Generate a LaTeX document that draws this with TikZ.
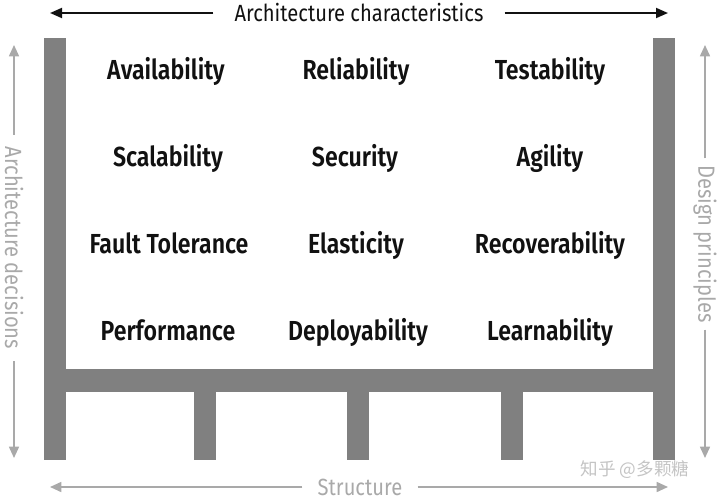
\documentclass[tikz,border=0pt]{standalone}
\usepackage{fontspec}
\setmainfont{Fira Sans}[FakeStretch=0.86]
\newfontfamily\qualfont{Fira Sans}[FakeStretch=0.84,UprightFont=* SemiBold]
\newfontfamily\wmfont{Noto Sans CJK SC}
\usetikzlibrary{arrows.meta,positioning}
\definecolor{chink}{HTML}{111111}
\definecolor{chbeam}{HTML}{808080}
\definecolor{chmute}{HTML}{A9A9A9}
\definecolor{chmark}{HTML}{C4C4C4}
\tikzset{
  quality/.style={anchor=base,font=\qualfont\fontsize{23.5}{28}\selectfont,text=chink},
  axislabel/.style={font=\fontsize{20}{24}\selectfont,inner ysep=0pt},
  beam/.style={fill=chbeam},
  darr/.style={-{Triangle[length=3.6mm,width=3mm]},line width=1.6pt,draw=chink},
  garr/.style={-{Triangle[length=3.4mm,width=3mm]},line width=1.4pt,draw=chmute},
}

\begin{document}
\begin{tikzpicture}[x=0.03cm,y=-0.03cm]
  \useasboundingbox (0,0) rectangle (720,501);
  \fill[beam] (44,38) rectangle (66,460);
  \fill[beam] (653,38) rectangle (675,460);
  \fill[beam] (44,369) rectangle (675,392);
  \fill[beam] (194,392) rectangle (216,460);
  \fill[beam] (347,392) rectangle (369,460);
  \fill[beam] (501,392) rectangle (523,460);

  \node[quality] (avail) at (166,79) {Availability};
  \node[quality] (reliab) at (356,79) {Reliability};
  \node[quality] (testab) at (550,79) {Testability};
  \node[quality] (scalab) at (168,166) {Scalability};
  \node[quality] (secur) at (355,166) {Security};
  \node[quality] (agil) at (550,166) {Agility};
  \node[quality] (faulttol) at (169,253) {Fault Tolerance};
  \node[quality] (elast) at (356,253) {Elasticity};
  \node[quality] (recov) at (550,253) {Recoverability};
  \node[quality] (perf) at (168,340) {Performance};
  \node[quality] (deploy) at (358,340) {Deployability};
  \node[quality] (learn) at (550,340) {Learnability};

  \node[axislabel,text=chink,inner xsep=0.63cm] (charttl) at (359,13) {Architecture characteristics};
  \coordinate (charl) at (50,13);
  \coordinate (charr) at (668,13);
  \draw[darr] (charttl.west) -- (charl);
  \draw[darr] (charttl.east) -- (charr);

  \node[axislabel,text=chmute,inner xsep=0.45cm] (structtl) at (360,487) {Structure};
  \coordinate (structl) at (50,487);
  \coordinate (structr) at (668,487);
  \draw[garr] (structtl.west) -- (structl);
  \draw[garr] (structtl.east) -- (structr);

  \node[axislabel,text=chmute,rotate=-90,inner xsep=0.36cm] (dectl) at (14,248) {Architecture decisions};
  \coordinate (dect) at (14,45);
  \coordinate (decb) at (14,458);
  \draw[garr] (dectl.west) -- (dect);
  \draw[garr] (dectl.east) -- (decb);

  \node[axislabel,text=chmute,rotate=-90,inner xsep=0.2cm] (printtl) at (705,244) {Design principles};
  \coordinate (prinht) at (705,45);
  \coordinate (prinb) at (705,458);
  \draw[garr] (printtl.west) -- (prinht);
  \draw[garr] (printtl.east) -- (prinb);

  \node[text=chmark,font=\wmfont\fontsize{15}{18}\selectfont] (mark) at (635,470) {知乎 @多颗糖};
\end{tikzpicture}
\end{document}
